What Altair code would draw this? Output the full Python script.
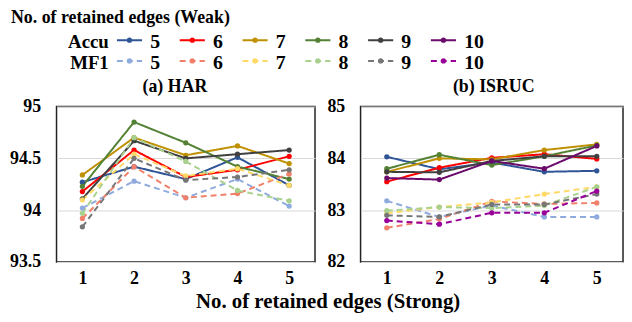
import altair as alt
import pandas as pd

FONT = "Liberation Serif"

strong = [1, 2, 3, 4, 5]
weak = ["5", "6", "7", "8", "9", "10"]
metrics = ["Accu", "MF1"]
top_title = "No. of retained edges (Weak)"
x_title = "No. of retained edges (Strong)"

har_accu = {
    "5": [94.27, 94.42, 94.30, 94.51, 94.24],
    "6": [94.18, 94.58, 94.32, 94.39, 94.52],
    "7": [94.34, 94.70, 94.53, 94.62, 94.45],
    "8": [94.23, 94.85, 94.65, 94.42, 94.30],
    "9": [94.11, 94.67, 94.50, 94.54, 94.58],
}
har_mf1 = {
    "5": [94.02, 94.28, 94.12, 94.30, 94.04],
    "6": [93.92, 94.42, 94.12, 94.16, 94.35],
    "7": [94.10, 94.54, 94.33, 94.40, 94.24],
    "8": [93.97, 94.70, 94.47, 94.19, 94.09],
    "9": [93.84, 94.50, 94.29, 94.32, 94.39],
}
isruc_accu = {
    "5": [84.03, 83.79, 83.92, 83.74, 83.76],
    "6": [83.55, 83.82, 84.01, 84.08, 83.99],
    "7": [83.74, 84.00, 83.98, 84.16, 84.27],
    "8": [83.80, 84.07, 83.87, 84.04, 84.25],
    "9": [83.74, 83.73, 83.95, 84.04, 84.04],
    "10": [83.62, 83.59, 83.95, 83.80, 84.24],
}
isruc_mf1 = {
    "5": [83.18, 82.87, 83.09, 82.87, 82.87],
    "6": [82.66, 82.83, 83.17, 83.12, 83.14],
    "7": [82.94, 83.06, 83.15, 83.31, 83.45],
    "8": [82.99, 83.06, 83.04, 83.09, 83.45],
    "9": [82.90, 82.87, 83.11, 83.11, 83.31],
    "10": [82.80, 82.73, 82.95, 82.95, 83.37],
}

accu_colors = ["#2F5597", "#FF0000", "#BF9000", "#548235", "#404040", "#6A0A6A"]
mf1_colors = ["#8FAADC", "#F0806A", "#FFD966", "#A9D18E", "#767676", "#990099"]

keys = [f"{m} {k}" for m in metrics for k in weak]
color_scale = alt.Scale(domain=keys, range=accu_colors + mf1_colors)
dash_scale = alt.Scale(domain=metrics, range=[[1, 0], [6, 4]])

rows = []
for ds, accu, mf1 in [("HAR", har_accu, har_mf1), ("ISRUC", isruc_accu, isruc_mf1)]:
    for metric, d in [("Accu", accu), ("MF1", mf1)]:
        for k, vals in d.items():
            for s, v in zip(strong, vals):
                rows.append(dict(dataset=ds, metric=metric, weak=k,
                                 key=f"{metric} {k}", strong=s, value=v))
df = pd.DataFrame(rows)

txt = dict(font=FONT, fontWeight="bold", color="#000")

LEFT_EXT = 46


def panel(ds, title, ydom, yvals, width, extent, pad, tdx):
    d = df[df.dataset == ds]
    base = alt.Chart(d).encode(
        x=alt.X("strong:O", title=None,
                axis=alt.Axis(labelAngle=0, ticks=False, domain=False,
                              labelPadding=8, labelFontSize=18, labelFont=FONT,
                              labelFontWeight="bold", labelColor="#000")),
        y=alt.Y("value:Q", title=None,
                scale=alt.Scale(domain=ydom, nice=False, zero=False),
                axis=alt.Axis(values=yvals, format="~g", ticks=False, domain=False,
                              grid=True, gridColor="#d9d9d9", gridWidth=1,
                              labelPadding=pad, minExtent=extent, maxExtent=extent,
                              labelFontSize=18, labelFont=FONT,
                              labelFontWeight="bold", labelColor="#000")),
        color=alt.Color("key:N", scale=color_scale, legend=None),
        detail="key:N",
    )
    lines = base.mark_line(strokeWidth=2).encode(
        strokeDash=alt.StrokeDash("metric:N", scale=dash_scale, legend=None),
        order="strong:O",
    )
    pts = base.mark_circle(size=28, opacity=1)
    return alt.layer(lines, pts).properties(
        width=width, height=157,
        title=alt.TitleParams(title, fontSize=18, offset=2, dx=tdx, **txt),
    )


left = panel("HAR", "(a) HAR", [93.5, 95], [93.5, 94, 94.5, 95], 261, LEFT_EXT, 16, -11)
right = panel("ISRUC", "(b) ISRUC", [82, 85], [82, 83, 84, 85], 265, 34, 16, 2)

panels = alt.hconcat(left, right, spacing=10).properties(
    title=alt.TitleParams(x_title, orient="bottom",
                          anchor="middle", dx=12, offset=3, fontSize=21, **txt)
)

# custom legend (with the top title as its first line)
leg_rows = []
for r, m in enumerate(metrics):
    for i, k in enumerate(weak):
        leg_rows.append(dict(i=i, row=r, metric=m, key=f"{m} {k}", label=k))
leg = pd.DataFrame(leg_rows)
head = pd.DataFrame(dict(row=list(range(len(metrics))), label=metrics))
ttl = pd.DataFrame(dict(label=[top_title]))

LW = 616 - LEFT_EXT
LH = 68
unit = 63.4
d0 = -61 / unit            # local x = 0 sits where the panels' plot area starts
xs = alt.Scale(domain=[d0, d0 + LW / unit], nice=False, zero=False)
runit = 21.0
r0 = -31 / runit
ys = alt.Scale(domain=[r0, r0 + LH / runit], reverse=True, nice=False, zero=False)

lb = alt.Chart(leg).transform_calculate(
    xa="datum.i", xb="datum.i + 0.4", xm="datum.i + 0.2", xt="datum.i + 0.53"
)
samples = lb.mark_rule(strokeWidth=2).encode(
    x=alt.X("xa:Q", scale=xs, axis=None), x2="xb:Q",
    y=alt.Y("row:Q", scale=ys, axis=None),
    color=alt.Color("key:N", scale=color_scale, legend=None),
    strokeDash=alt.StrokeDash("metric:N", scale=dash_scale, legend=None),
)
dots = lb.mark_circle(size=28, opacity=1).encode(
    x=alt.X("xm:Q", scale=xs, axis=None),
    y=alt.Y("row:Q", scale=ys, axis=None),
    color=alt.Color("key:N", scale=color_scale, legend=None),
)
nums = lb.mark_text(align="left", baseline="middle", dy=2, fontSize=20, **txt).encode(
    x=alt.X("xt:Q", scale=xs, axis=None),
    y=alt.Y("row:Q", scale=ys, axis=None),
    text="label:N",
)
heads = alt.Chart(head).transform_calculate(xh="-0.13").mark_text(
    align="right", baseline="middle", dy=2, fontSize=19, **txt
).encode(
    x=alt.X("xh:Q", scale=xs, axis=None),
    y=alt.Y("row:Q", scale=ys, axis=None),
    text="label:N",
)
title_mark = alt.Chart(ttl).transform_calculate(
    xh=f"{d0 - LEFT_EXT / unit}", yh=f"{r0}"
).mark_text(align="left", baseline="top", fontSize=18, **txt).encode(
    x=alt.X("xh:Q", scale=xs, axis=None),
    y=alt.Y("yh:Q", scale=ys, axis=None),
    text="label:N",
)
legend = alt.layer(title_mark, samples, dots, nums, heads).properties(
    width=LW, height=LH, view=alt.ViewBackground(strokeOpacity=0)
)

chart = alt.vconcat(legend, panels, spacing=0).properties(
    padding={"left": 0, "top": 0, "right": 0, "bottom": 0},
).configure_view(stroke="#222", strokeWidth=1.5)

chart.save("out.html", embed_options={"renderer": "svg", "actions": False})
